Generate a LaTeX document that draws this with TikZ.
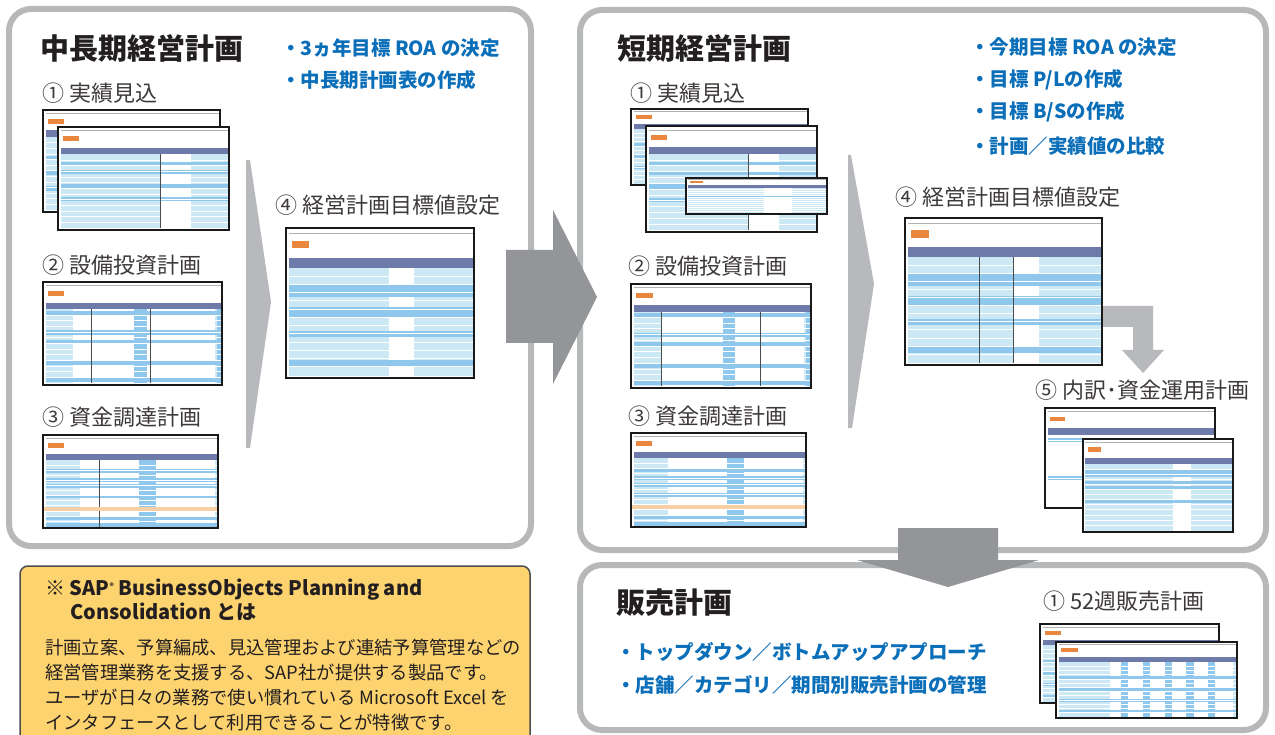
\documentclass[tikz,border=0pt]{standalone}
\usepackage{fontspec}
\setmainfont{Noto Sans CJK JP}
\definecolor{panelgray}{HTML}{B7B8BA}
\definecolor{arrowgray}{HTML}{939598}
\definecolor{chevgray}{HTML}{B8B9BC}
\definecolor{titlecol}{HTML}{231F20}
\definecolor{labelcol}{HTML}{3E3A39}
\definecolor{bulletblue}{HTML}{0A6EB8}
\definecolor{noteyellow}{HTML}{FDD36F}
\definecolor{noteborder}{HTML}{4D4D4D}
\definecolor{xlhead}{HTML}{6D7AAA}
\definecolor{xllight}{HTML}{CDE8F5}
\definecolor{xlmid}{HTML}{8FC8EC}
\definecolor{xlorange}{HTML}{E9873F}
\definecolor{xlpeach}{HTML}{F7CFA5}
\tikzset{
  panel/.style={draw=panelgray,line width=6pt,fill=white,rounded corners=22pt},
  bigarrow/.style={fill=arrowgray},
  chevron/.style={fill=chevgray},
  title/.style={anchor=west,inner sep=0pt,text=titlecol,font=\fontsize{29}{32}\selectfont\bfseries},
  bullet/.style={anchor=west,inner sep=0pt,text=bulletblue,font=\fontsize{19.5}{22}\selectfont\bfseries},
  label/.style={anchor=west,inner sep=0pt,text=labelcol,font=\fontsize{22}{24}\selectfont},
  notehead/.style={anchor=west,inner sep=0pt,text=titlecol,font=\fontsize{20}{22}\selectfont\bfseries},
  notebody/.style={anchor=west,inner sep=0pt,text=titlecol,font=\fontsize{18.3}{21}\selectfont},
  xlframe/.style={draw=black!90,line width=1.2pt},
  xlrow/.style={draw=white,line width=0.5pt},
  xldiv/.style={draw=black!70,line width=0.8pt}
}
% x0,y0,x1,y1, stripes, white col from, to, blue cols a/b, dark dividers (0 = none)
\newcommand{\xlsheet}[9]{%
  \begin{scope}[shift={(#1,#2)},xscale=#3-#1,yscale=#4-#2]
    \fill[white] (0,0) rectangle (1,1);
    \draw[black!30,line width=0.4pt] (0.015,0.035) -- (0.995,0.035);
    \fill[xlorange] (0.03,0.085) rectangle (0.12,0.135);
    \fill[xlhead] (0.015,0.2) rectangle (0.995,0.265);
    \fill[xllight] (0.015,0.265) rectangle (0.995,0.985);
    \fill[white] (#6,0.265) rectangle (#7,0.985);
    \foreach \s in {#5} {\fill[xlmid] (0.015,\s) rectangle (0.995,\s+0.04);}
    \foreach \a/\b in {#8} {\fill[xlmid] (\a,0.265) rectangle (\b,0.985);}
    \foreach \r in {0.32,0.375,...,0.96} {\draw[xlrow] (0.015,\r) -- (0.995,\r);}
    \foreach \d in {#9} {\draw[xldiv] (\d,0.265) -- (\d,0.985);}
    \draw[xlframe] (0,0) rectangle (1,1);
  \end{scope}}
\begin{document}
\begin{tikzpicture}[x=1pt,y=-1pt]
\useasboundingbox (0,0) rectangle (1275,735);
% panels
\draw[panel] (9,9) rectangle (531,546);
\draw[panel] (580,10) rectangle (1266,550);
\draw[panel] (580,565) rectangle (1266,730);
% note box
\draw[fill=noteyellow,draw=noteborder,line width=1.5pt,rounded corners=8pt] (20,566) rectangle (530,750);
% chevrons
\fill[chevron] (246,160) -- (250,160) -- (271,302) -- (250,448) -- (246,448) -- cycle;
\fill[chevron] (848,155) -- (851,155) -- (874,284) -- (852,428) -- (848,428) -- cycle;
% small L arrow
\fill[chevron] (1090,306) -- (1153,306) -- (1153,350) -- (1164,350) -- (1143,373) -- (1122,350) -- (1133,350) -- (1133,327) -- (1090,327) -- cycle;
% sheets left panel
\xlsheet{43}{110}{220}{212}{0.45,0.6,0.75}{0.75}{0.85}{0/0}{0}
\xlsheet{58}{127}{229}{230}{0.34,0.42,0.55,0.68}{0.6}{0.78}{0/0}{0.6}
\xlsheet{286}{228}{474}{378}{0.38,0.42,0.53,0.56,0.69,0.88}{0.55}{0.68}{0/0}{0}
\xlsheet{43}{282}{222}{385}{0.28,0.47,0.56,0.77,0.93}{0.17}{0.96}{0.51/0.58,0.97/0.995}{0.27,0.6}
\xlsheet{43}{435}{218}{528}{0.37,0.46,0.53,0.64,0.87,0.95}{0.21}{0.98}{0.55/0.645}{0.32}
\fill[xlpeach] (44,507) rectangle (217,511);
% sheets right panel
\xlsheet{631}{109}{808}{185}{0.45,0.6,0.75}{0.75}{0.85}{0/0}{0}
\xlsheet{646}{126}{817}{232}{0.34,0.42,0.55,0.68}{0.6}{0.78}{0/0}{0.6}
\xlsheet{686}{178}{827}{214}{0.5,0.75}{0.55}{0.75}{0/0}{0}
\xlsheet{631}{284}{811}{388}{0.28,0.47,0.56,0.77,0.93}{0.17}{0.96}{0.51/0.58,0.97/0.995}{0.17,0.72}
\xlsheet{631}{433}{806}{527}{0.37,0.46,0.53,0.64,0.87,0.95}{0.21}{0.98}{0.55/0.645}{0}
\fill[xlpeach] (632,505) rectangle (805,509);
\xlsheet{905}{218}{1102}{365}{0.38,0.42,0.53,0.56,0.69,0.88}{0.55}{0.68}{0/0}{0.38,0.55}
\xlsheet{1045}{408}{1215}{508}{0.3,0.68}{0.015}{0.995}{0/0}{0}
\xlsheet{1083}{439}{1233}{532}{0.33,0.37,0.45,0.5,0.65}{0.6}{0.72}{0/0}{0}
% sheets bottom panel
\xlsheet{1040}{624}{1219}{703}{0.45,0.6,0.75,0.9}{0.3}{0.98}{0.36/0.40,0.48/0.52,0.6/0.64,0.72/0.76,0.84/0.88}{0}
\xlsheet{1056}{642}{1237}{718}{0.45,0.6,0.75,0.9}{0.3}{0.98}{0.36/0.40,0.48/0.52,0.6/0.64,0.72/0.76,0.84/0.88}{0}
% big arrows
\fill[bigarrow] (506,250) -- (553,250) -- (553,210) -- (597,297) -- (553,384) -- (553,343) -- (506,343) -- cycle;
\fill[bigarrow] (898,528) -- (998,528) -- (998,560) -- (1039,560) -- (948,587) -- (857,560) -- (898,560) -- cycle;
% texts left panel
\node[title] (tl) at (40,48) {中長期経営計画};
\node[bullet] (bl1) at (281,48) {・3ヵ年目標 ROA の決定};
\node[bullet] (bl2) at (281,80) {・中長期計画表の作成};
\node[label] (ll1) at (42,93) {① 実績見込};
\node[label] (ll4) at (275,205) {④ 経営計画目標値設定};
\node[label] (ll2) at (42,265) {② 設備投資計画};
\node[label] (ll3) at (42,417) {③ 資金調達計画};
% texts right panel
\node[title] (tr) at (617,48) {短期経営計画};
\node[bullet] (br1) at (970,47) {・今期目標 ROA の決定};
\node[bullet] (br2) at (970,80) {・目標 P/Lの作成};
\node[bullet] (br3) at (970,112) {・目標 B/Sの作成};
\node[bullet] (br4) at (970,146) {・計画／実績値の比較};
\node[label] (lr1) at (630,93) {① 実績見込};
\node[label] (lr2) at (628,266) {② 設備投資計画};
\node[label] (lr3) at (628,416) {③ 資金調達計画};
\node[label] (lr4) at (895,197) {④ 経営計画目標値設定};
\node[label] (lr5) at (1035,390) {⑤ 内訳･資金運用計画};
% texts bottom panel
\node[title] (tb) at (616,603) {販売計画};
\node[label] (lb1) at (1043,601) {① 52週販売計画};
\node[bullet] (bb1) at (616,652) {・トップダウン／ボトムアップアプローチ};
\node[bullet] (bb2) at (616,685) {・店舗／カテゴリ／期間別販売計画の管理};
% note texts
\node[notehead] (nh1) at (45,590) {※ SAP\raisebox{0.55ex}{\fontsize{8}{8}\selectfont ®} BusinessObjects Planning and};
\node[notehead] (nh2) at (70,612) {Consolidation とは};
\node[notebody] (nb1) at (45,648) {計画立案、予算編成、見込管理および連結予算管理などの};
\node[notebody] (nb2) at (45,673) {経営管理業務を支援する、SAP社が提供する製品です。};
\node[notebody] (nb3) at (45,698) {ユーザが日々の業務で使い慣れている Microsoft Excel を};
\node[notebody] (nb4) at (45,723) {インタフェースとして利用できることが特徴です。};
\end{tikzpicture}
\end{document}
